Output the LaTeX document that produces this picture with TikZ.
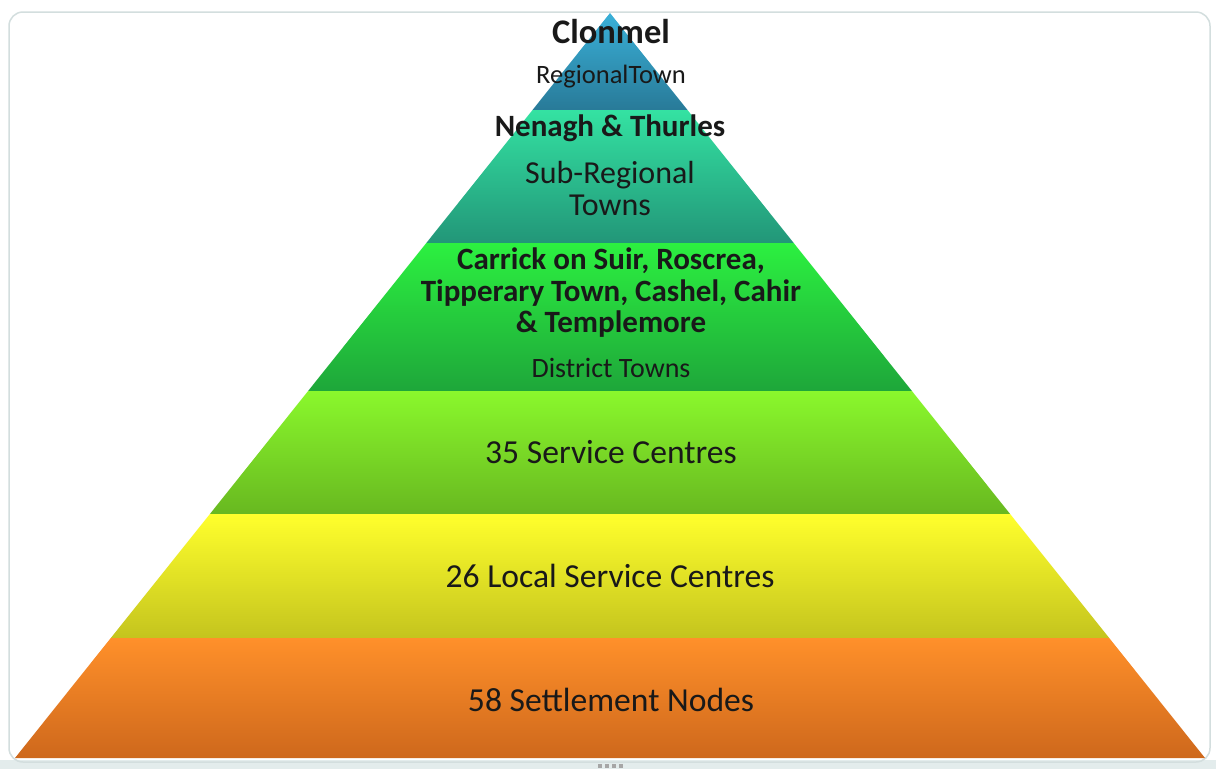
\documentclass[tikz,border=0pt]{standalone}
\usepackage{fontspec}
\setmainfont{Carlito}
\begin{document}
\begin{tikzpicture}[x=1pt,y=-1pt,
  lbl/.style={align=center,inner sep=0pt,text=black!90}]
\useasboundingbox (0,0) rectangle (1216,769);
\definecolor{framegray}{HTML}{D3DEDE}
\definecolor{stripgray}{HTML}{E3ECEC}
% frame and bottom strip
\fill[stripgray] (0,760) rectangle (1216,769);
\fill[white] (0,0) rectangle (1216,760);
\draw[framegray,line width=1.5pt,rounded corners=14pt] (9,12) rectangle (1210,762);
% pyramid bands: apex (610,13), base (15,758)-(1205,758)
\shade[top color={rgb,255:red,58;green,176;blue,216},bottom color={rgb,255:red,40;green,122;blue,152}]
  (610,13) -- (687.5,110) -- (532.5,110) -- cycle;
\shade[top color={rgb,255:red,52;green,226;blue,162},bottom color={rgb,255:red,34;green,150;blue,120}]
  (532.5,110) -- (687.5,110) -- (793.7,243) -- (426.3,243) -- cycle;
\shade[top color={rgb,255:red,44;green,240;blue,64},bottom color={rgb,255:red,30;green,166;blue,58}]
  (426.3,243) -- (793.7,243) -- (911.9,391) -- (308.1,391) -- cycle;
\shade[top color={rgb,255:red,138;green,248;blue,44},bottom color={rgb,255:red,104;green,184;blue,32}]
  (308.1,391) -- (911.9,391) -- (1010.1,514) -- (209.9,514) -- cycle;
\shade[top color={rgb,255:red,255;green,255;blue,44},bottom color={rgb,255:red,196;green,196;blue,30}]
  (209.9,514) -- (1010.1,514) -- (1109.2,638) -- (110.8,638) -- cycle;
\shade[top color={rgb,255:red,255;green,144;blue,42},bottom color={rgb,255:red,206;green,104;blue,28}]
  (110.8,638) -- (1109.2,638) -- (1205,758) -- (15,758) -- cycle;
% selection handle dots
\foreach \i in {0,1,2,3}
  \fill[gray!70] (598+\i*7,764) rectangle ++(4,4);
% labels
\node[lbl,font=\fontsize{34.5}{36}\selectfont\bfseries] (clonmel) at (611,32) {Clonmel};
\node[lbl,font=\fontsize{26.5}{28}\selectfont] (regional) at (611,77) {RegionalTown};
\node[lbl,font=\fontsize{31}{33}\selectfont\bfseries] (nenagh) at (610,128) {Nenagh \& Thurles};
\node[lbl,font=\fontsize{32}{32}\selectfont] (subreg) at (610,189) {Sub-Regional\\Towns};
\node[lbl,font=\fontsize{31}{31.5}\selectfont\bfseries] (district) at (611,293) {Carrick on Suir, Roscrea,\\Tipperary Town, Cashel, Cahir\\\& Templemore};
\node[lbl,font=\fontsize{28}{30}\selectfont] (distlbl) at (611,368) {District Towns};
\node[lbl,font=\fontsize{33.6}{36}\selectfont] (service) at (611,452) {35 Service Centres};
\node[lbl,font=\fontsize{33.6}{36}\selectfont] (local) at (610,576) {26 Local Service Centres};
\node[lbl,font=\fontsize{33.6}{36}\selectfont] (nodes) at (611,700) {58 Settlement Nodes};
\end{tikzpicture}
\end{document}
